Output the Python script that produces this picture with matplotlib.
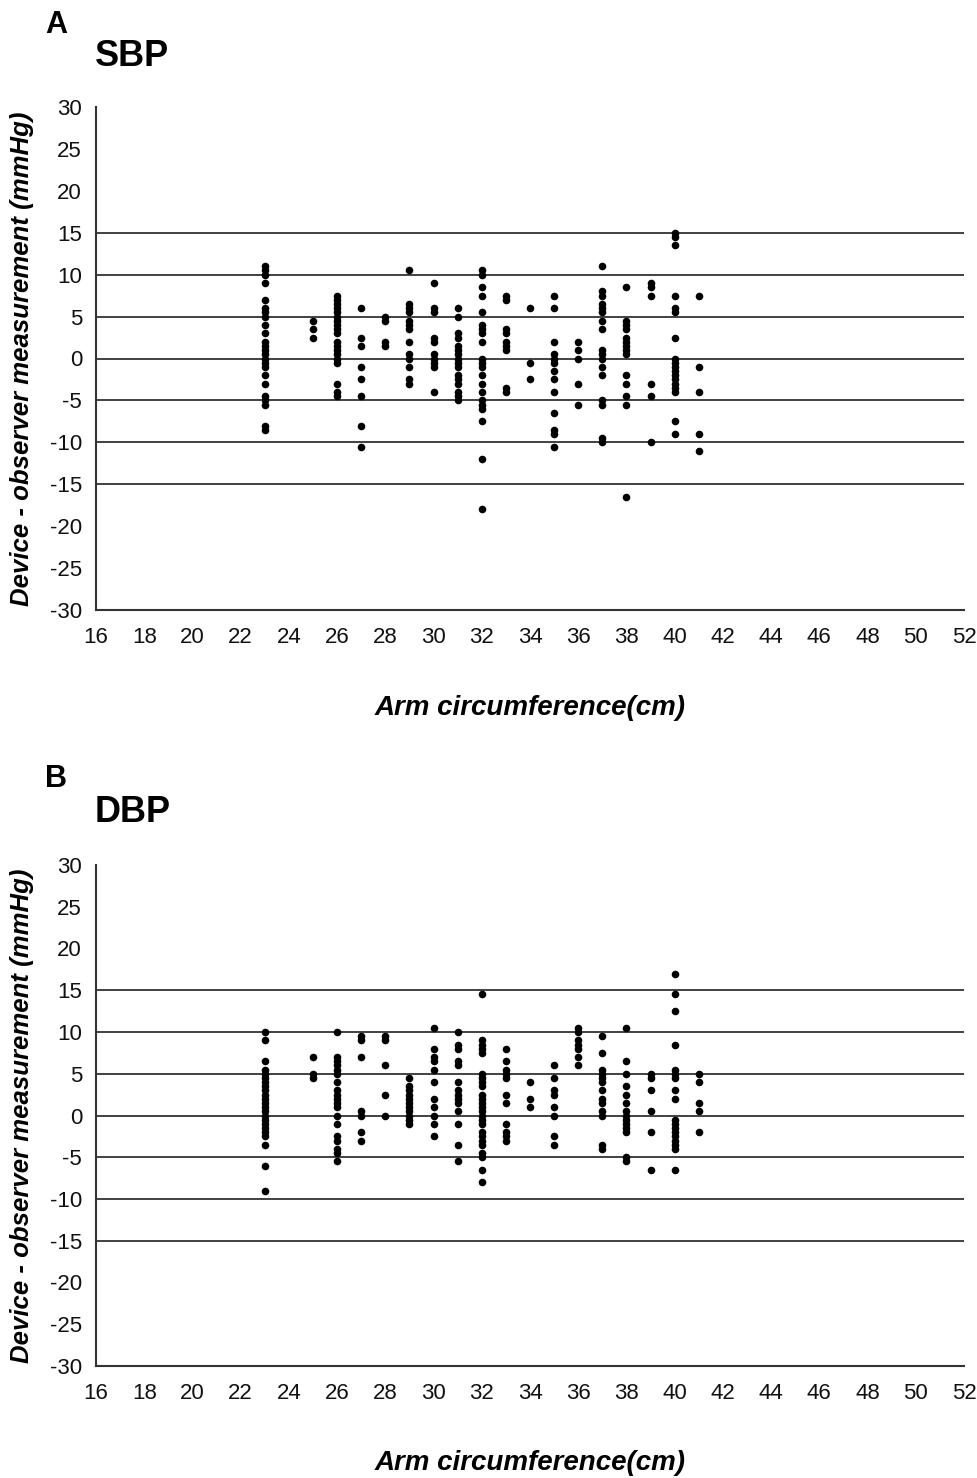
import matplotlib.pyplot as plt

# arm circumference groups (cm)
sbp_x = [23, 25, 26, 27, 28, 29, 30, 31, 32, 33, 34, 35, 36, 37, 38, 39, 40, 41]
sbp_y = [
    [11, 10.5, 10, 9, 7, 6, 5.5, 5, 4, 3, 2, 1.5, 1, 0.5, 0, -0.5, -1, -2, -3, -4.5, -5, -5.5, -8, -8.5],
    [4.5, 3.5, 2.5],
    [7.5, 7, 6.5, 6, 5.5, 5, 4.5, 4, 3.5, 3, 2, 1.5, 1, 0.5, 0, -0.5, -3, -4, -4.5],
    [6, 2.5, 1.5, -1, -2.5, -4.5, -8, -10.5],
    [5, 4.5, 2, 1.5],
    [10.5, 6.5, 6, 5.5, 4.5, 4, 3.5, 2, 0.5, 0, -1, -2.5, -3],
    [9, 6, 5.5, 2.5, 2, 0.5, 0, -0.5, -1, -4],
    [6, 5, 3, 2.5, 1.5, 1, 0.5, 0, -0.5, -1, -2, -2.5, -3, -4, -4.5, -5],
    [10.5, 10, 8.5, 7.5, 5.5, 4, 3.5, 3, 2, 0, -0.5, -1, -2, -3, -4, -5, -5.5, -6, -7.5, -12, -18],
    [7.5, 7, 3.5, 3, 2, 1.5, 1, -3.5, -4],
    [6, -0.5, -2.5],
    [7.5, 6, 2, 0.5, 0, -0.5, -1.5, -2.5, -4, -6.5, -8.5, -9, -10.5],
    [2, 1, 0, -3, -5.5],
    [11, 8, 7.5, 6.5, 6, 5.5, 4.5, 3.5, 1, 0.5, 0, -1, -2, -5, -5.5, -9.5, -10],
    [8.5, 4.5, 4, 3.5, 2.5, 2, 1.5, 1, 0.5, -2, -3, -4.5, -5.5, -16.5],
    [9, 8.5, 7.5, -3, -4.5, -10],
    [15, 14.5, 13.5, 7.5, 6, 5.5, 2.5, 0, -0.5, -1, -1.5, -2, -2.5, -3, -3.5, -4, -7.5, -9],
    [7.5, -1, -4, -9, -11],
]

dbp_x = [23, 25, 26, 27, 28, 29, 30, 31, 32, 33, 34, 35, 36, 37, 38, 39, 40, 41]
dbp_y = [
    [10, 9, 6.5, 5.5, 5, 4.5, 4, 3.5, 3, 2.5, 2, 1.5, 1, 0.5, 0, -0.5, -1, -1.5, -2, -2.5, -3.5, -6, -9],
    [7, 5, 4.5],
    [10, 7, 6.5, 6, 5.5, 5, 4, 3, 2.5, 2, 1.5, 1, 0, -1, -2.5, -3, -4, -4.5, -5.5],
    [9.5, 9, 7, 0.5, 0, -2, -3],
    [9.5, 9, 6, 2.5, 0],
    [4.5, 3.5, 3, 2.5, 2, 1.5, 1, 0.5, 0, -0.5, -1],
    [10.5, 8, 7, 6.5, 5.5, 4, 2, 1, 0, -1, -2.5],
    [10, 8.5, 8, 6.5, 6, 4, 3, 2.5, 2, 1.5, 0.5, -1, -3.5, -5.5],
    [14.5, 9, 8.5, 8, 7.5, 5, 4.5, 4, 3.5, 2.5, 2, 1.5, 1, 0.5, 0, -0.5, -1, -2, -2.5, -3, -3.5, -4.5, -5, -6.5, -8],
    [8, 6.5, 5.5, 5, 4.5, 2.5, 1.5, -1, -2, -2.5, -3],
    [4, 2, 1],
    [6, 4.5, 3, 2.5, 1, 0, -2.5, -3.5],
    [10.5, 10, 9, 8.5, 8, 7, 6],
    [9.5, 7.5, 5.5, 5, 4.5, 4, 3, 2, 1.5, 0.5, 0, -3.5, -4],
    [10.5, 6.5, 5, 3.5, 2.5, 1.5, 0.5, 0, -0.5, -1, -1.5, -2, -5, -5.5],
    [5, 4.5, 3, 0.5, -2, -6.5],
    [17, 14.5, 12.5, 8.5, 5.5, 5, 4.5, 3, 2, -0.5, -1, -1.5, -2, -2.5, -3, -3.5, -4, -6.5],
    [5, 4, 1.5, 0.5, -2],
]

ref_lines = [-15, -10, -5, 0, 5, 10, 15]
x_ticks = list(range(16, 53, 2))
y_ticks = list(range(-30, 31, 5))

plt.rcParams['font.family'] = ['Liberation Sans', 'DejaVu Sans']
plt.rcParams['axes.unicode_minus'] = False

fig = plt.figure(figsize=(9.77, 14.78), dpi=100)


def panel(rect, xs, ys, letter, title, letter_y, title_y):
    ax = fig.add_axes(rect)
    for v in ref_lines:
        ax.axhline(v, color='#333333', lw=1.3, zorder=1)
    for x, col in zip(xs, ys):
        ax.scatter([x] * len(col), col, s=30, color='black', zorder=3, linewidths=0)
    ax.set_xlim(16, 52)
    ax.set_ylim(-30, 30)
    ax.set_xticks(x_ticks)
    ax.set_yticks(y_ticks)
    ax.tick_params(length=0, labelsize=16, labelcolor='#111111')
    ax.tick_params(axis='x', pad=12)
    ax.tick_params(axis='y', pad=10)
    for s in ['top', 'right']:
        ax.spines[s].set_visible(False)
    for s in ['left', 'bottom']:
        ax.spines[s].set_color('#333333')
        ax.spines[s].set_linewidth(1.5)
    ax.set_ylabel('Device - observer measurement (mmHg)', fontsize=18.5,
                  fontweight='bold', fontstyle='italic')
    ax.yaxis.set_label_coords(-0.072, 0.5)
    ax.set_xlabel('Arm circumference(cm)', fontsize=20, fontweight='bold',
                  fontstyle='italic')
    ax.xaxis.set_label_coords(0.5, -0.168)
    fig.text(45 / 977, 1 - letter_y / 1478, letter, fontsize=22,
             fontweight='bold', va='center')
    fig.text(95 / 977, 1 - title_y / 1478, title, fontsize=26,
             fontweight='bold', va='center')
    return ax


panel([96 / 977, 1 - 610 / 1478, 868 / 977, 503 / 1478], sbp_x, sbp_y,
      'A', 'SBP', 25, 56)
panel([96 / 977, 1 - 1366 / 1478, 868 / 977, 501 / 1478], dbp_x, dbp_y,
      'B', 'DBP', 779, 813)

fig.savefig('out.png', dpi=100)
